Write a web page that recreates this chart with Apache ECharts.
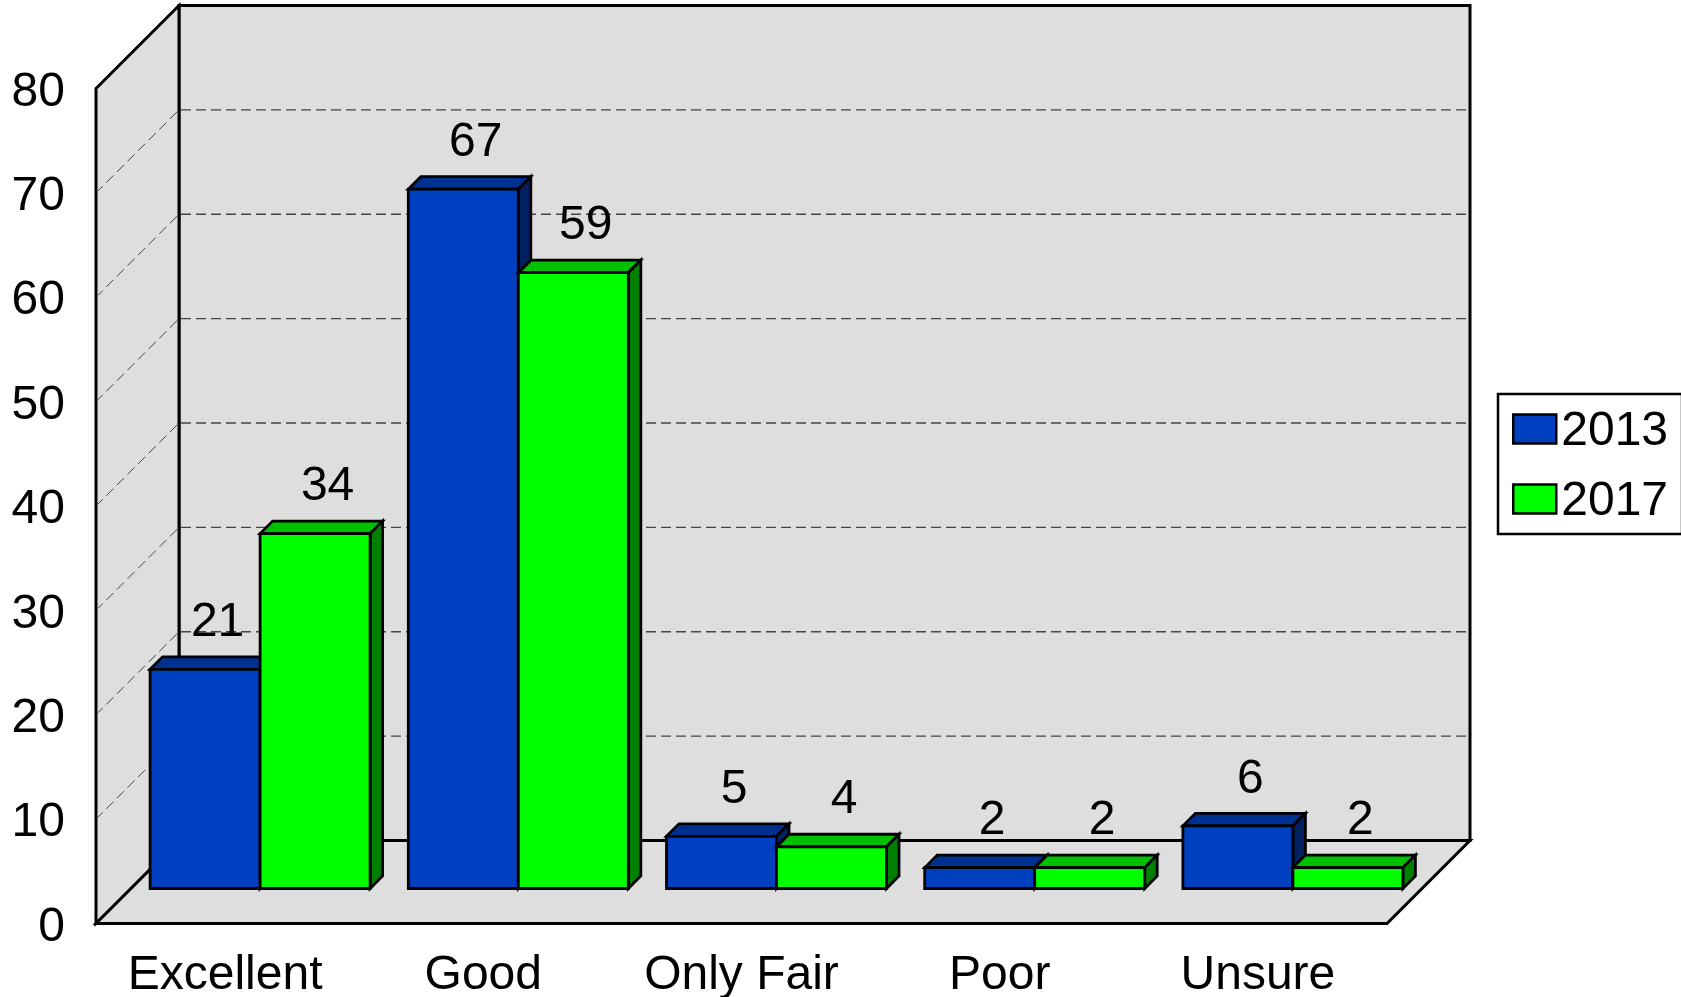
<!DOCTYPE html>
<html>
<head>
<meta charset="utf-8">
<title>Chart</title>
<script src="https://cdn.jsdelivr.net/npm/echarts@6/dist/echarts.min.js"></script>
<style>
  html, body { margin: 0; padding: 0; background: #fff; }
  #chart { width: 1681px; height: 997px; }
</style>
</head>
<body>
<div id="chart"></div>
<script>
const categories = ['Excellent', 'Good', 'Only Fair', 'Poor', 'Unsure'];
const values2013 = [21, 67, 5, 2, 6];
const values2017 = [34, 59, 4, 2, 2];
const gridTicks = [10, 20, 30, 40, 50, 60, 70];

// fake 3d: the grid is the front edge of the floor, everything else is shifted back from it
const WALL_DEPTH = 83;
const BAR_SHIFT = 35;
const BAR_DEPTH = 12.5;
const BAR_WIDTH = 110;
const FONT = '48px "Liberation Sans"';

const chart = echarts.init(document.getElementById('chart'));

function poly(points, fill, width) {
  return {
    type: 'polygon',
    shape: { points: points },
    style: { fill: fill, stroke: '#000', lineWidth: width, lineJoin: 'miter' }
  };
}

function dashed(x1, y1, x2, y2, width) {
  return {
    type: 'line',
    z2: 1,
    shape: { x1: x1, y1: y1, x2: x2, y2: y2 },
    style: { stroke: '#444', lineWidth: width, lineDash: [10, 5], fill: null }
  };
}

function renderWalls(params, api) {
  const c = params.coordSys;
  const left = c.x;
  const right = c.x + c.width;
  const top = c.y;
  const bottom = c.y + c.height;
  const d = WALL_DEPTH;
  const wall = '#dedede';
  const children = [
    poly([[left + d, top - d], [right + d, top - d], [right + d, bottom - d], [left + d, bottom - d]], wall, 3),
    poly([[left, top], [left + d, top - d], [left + d, bottom - d], [left, bottom]], wall, 3),
    poly([[left, bottom], [left + d, bottom - d], [right + d, bottom - d], [right, bottom]], wall, 3)
  ];
  gridTicks.forEach(function (t) {
    const y = api.coord([0, t])[1];
    children.push(dashed(left + d + 2, y - d, right + d - 2, y - d, 1.3));
    children.push(dashed(left + d - 2, y - d + 2, left + 2, y - 2, 1));
  });
  return { type: 'group', children: children };
}

function barRenderer(seriesPos, front, topFace, sideFace) {
  return function (params, api) {
    const idx = api.value(0);
    const val = api.value(1);
    const center = api.coord([idx, val]);
    const base = api.coord([idx, 0]);
    const x0 = center[0] + BAR_SHIFT + seriesPos * BAR_WIDTH;
    const x1 = x0 + BAR_WIDTH;
    const yt = center[1] - BAR_SHIFT;
    const yb = base[1] - BAR_SHIFT;
    const b = BAR_DEPTH;
    return {
      type: 'group',
      children: [
        poly([[x0, yt], [x0 + b, yt - b], [x1 + b, yt - b], [x1, yt]], topFace, 2.8),
        poly([[x1, yt], [x1 + b, yt - b], [x1 + b, yb - b], [x1, yb]], sideFace, 2.8),
        poly([[x0, yt], [x1, yt], [x1, yb], [x0, yb]], front, 2.8),
        {
          type: 'text',
          z2: 5,
          style: {
            text: String(val),
            x: (x0 + x1) / 2 + b,
            y: yt - b - 34,
            align: 'center',
            verticalAlign: 'middle',
            font: FONT,
            fill: '#000'
          }
        }
      ]
    };
  };
}

function toRows(list) {
  return list.map(function (v, i) { return [i, v]; });
}

chart.setOption({
  animation: false,
  backgroundColor: '#fff',
  grid: { left: 96, top: 88.5, width: 1291, height: 835, containLabel: false, outerBoundsMode: 'none' },
  legend: {
    data: ['2013', '2017'],
    orient: 'vertical',
    left: 1498,
    top: 394,
    padding: [14, 14, 8, 14],
    itemWidth: 43,
    itemHeight: 29,
    itemGap: 22,
    icon: 'rect',
    backgroundColor: '#fff',
    borderColor: '#000',
    borderWidth: 2.5,
    selectedMode: false,
    formatter: '{year|{name}}',
    textStyle: {
      rich: {
        // legend forces middle alignment, so the taller line nudges the digits down
        year: { color: '#000', fontSize: 48, fontFamily: 'Liberation Sans', lineHeight: 54, verticalAlign: 'bottom' }
      }
    },
    itemStyle: { borderColor: '#000', borderWidth: 2.5 }
  },
  xAxis: {
    type: 'category',
    data: categories,
    axisLine: { show: false },
    axisTick: { show: false },
    splitLine: { show: false },
    axisLabel: { color: '#000', fontSize: 48, fontFamily: 'Liberation Sans', margin: 28, interval: 0 }
  },
  yAxis: {
    type: 'value',
    min: 0,
    max: 80,
    interval: 10,
    axisLine: { show: false },
    axisTick: { show: false },
    splitLine: { show: false },
    // short line box anchored at the top drops the digits a little below the tick
    axisLabel: { color: '#000', fontSize: 48, fontFamily: 'Liberation Sans', margin: 31, verticalAlign: 'top', lineHeight: 8 }
  },
  series: [
    {
      name: 'walls',
      type: 'custom',
      silent: true,
      z: 1,
      data: [[0, 0]],
      renderItem: renderWalls
    },
    {
      name: '2013',
      type: 'custom',
      z: 2,
      itemStyle: { color: '#0040c0' },
      data: toRows(values2013),
      encode: { x: 0, y: 1 },
      renderItem: barRenderer(-1, '#0040c0', '#003090', '#002060')
    },
    {
      name: '2017',
      type: 'custom',
      z: 3,
      itemStyle: { color: '#00ff00' },
      data: toRows(values2017),
      encode: { x: 0, y: 1 },
      renderItem: barRenderer(0, '#00ff00', '#00c000', '#008000')
    }
  ]
});
</script>
</body>
</html>
